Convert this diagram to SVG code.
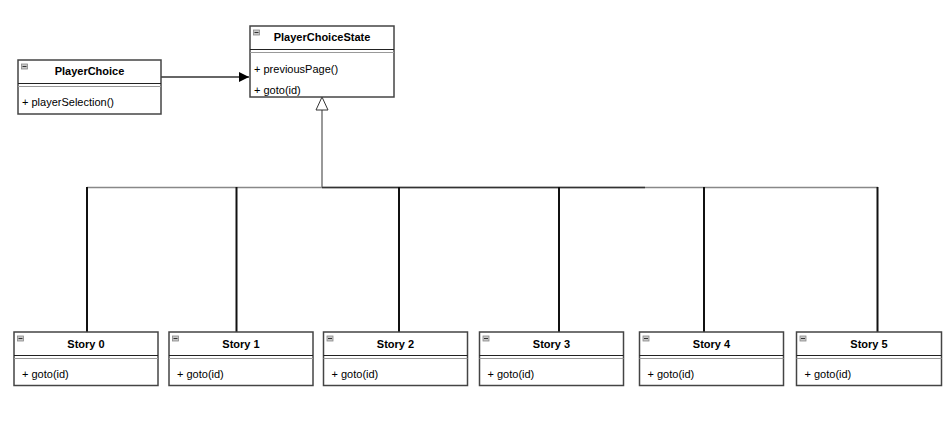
<svg xmlns="http://www.w3.org/2000/svg" width="946" height="439" viewBox="0 0 946 439">
<style>
.box{fill:#fff;stroke:#444;stroke-width:1.5}
.sep1{stroke:#222;stroke-width:1.2}
.sep2{stroke:#999;stroke-width:1.2}
.icon{fill:#c8c8c8;stroke:#888;stroke-width:0.8}
.iconl{stroke:#333;stroke-width:1}
.title{font-family:"Liberation Sans",Arial,sans-serif;font-size:11px;font-weight:bold;fill:#000;text-anchor:middle}
.meth{font-family:"Liberation Sans",Arial,sans-serif;font-size:11px;fill:#000}
.vline{stroke:#111;stroke-width:2;fill:none}
</style>
<defs>
<marker id="filled" markerWidth="12" markerHeight="12" refX="10" refY="5" orient="auto" markerUnits="userSpaceOnUse">
<path d="M0,0 L10,5 L0,10 Z" fill="#000"/>
</marker>
</defs>
<rect width="946" height="439" fill="#fff"/>
<g id="connectors">
<line x1="161" y1="77" x2="249" y2="77" stroke="#333" stroke-width="1.5" marker-end="url(#filled)"/>
<line x1="322" y1="110" x2="322" y2="187.5" stroke="#777" stroke-width="1.5"/>
<path d="M322,97 L328,110 L316,110 Z" fill="#fff" stroke="#333" stroke-width="1"/>
<line x1="87" y1="187.5" x2="878" y2="187.5" stroke="#888" stroke-width="1.5"/>
<line x1="322" y1="187.5" x2="645" y2="187.5" stroke="#333" stroke-width="1.5"/>
<line class="vline" x1="87" y1="187" x2="87" y2="332"/>
<line class="vline" x1="236.5" y1="187" x2="236.5" y2="332"/>
<line class="vline" x1="399" y1="187" x2="399" y2="332"/>
<line class="vline" x1="559" y1="187" x2="559" y2="332"/>
<line class="vline" x1="704" y1="187" x2="704" y2="332"/>
<line class="vline" x1="877.5" y1="187" x2="877.5" y2="332"/>
</g>
<g id="PlayerChoiceState">
<rect class="box" x="250" y="26" width="144" height="71"/>
<rect class="icon" x="253.5" y="30" width="6" height="5"/>
<line class="iconl" x1="254.5" y1="32.5" x2="258.5" y2="32.5"/>
<text class="title" x="322" y="41">PlayerChoiceState</text>
<line class="sep1" x1="250" y1="49.5" x2="394" y2="49.5"/>
<line class="sep2" x1="250" y1="52.5" x2="394" y2="52.5"/>
<text class="meth" x="254" y="73">+ previousPage()</text>
<text class="meth" x="254" y="94">+ goto(id)</text>
</g>
<g id="PlayerChoice">
<rect class="box" x="18" y="60" width="143" height="54"/>
<rect class="icon" x="21.5" y="64" width="6" height="5"/>
<line class="iconl" x1="22.5" y1="66.5" x2="26.5" y2="66.5"/>
<text class="title" x="89.5" y="75">PlayerChoice</text>
<line class="sep1" x1="18" y1="83.5" x2="161" y2="83.5"/>
<line class="sep2" x1="18" y1="86.5" x2="161" y2="86.5"/>
<text class="meth" x="22" y="105.5">+ playerSelection()</text>
</g>
<g id="Story0">
<rect class="box" x="14" y="332" width="144" height="53.5"/>
<rect class="icon" x="17.5" y="336" width="6" height="5"/>
<line class="iconl" x1="18.5" y1="338.5" x2="22.5" y2="338.5"/>
<text class="title" x="86" y="347.5">Story 0</text>
<line class="sep1" x1="14" y1="355.5" x2="158" y2="355.5"/>
<line class="sep2" x1="14" y1="358.5" x2="158" y2="358.5"/>
<text class="meth" x="22" y="378">+ goto(id)</text>
</g>
<g id="Story1">
<rect class="box" x="169" y="332" width="144" height="53.5"/>
<rect class="icon" x="172.5" y="336" width="6" height="5"/>
<line class="iconl" x1="173.5" y1="338.5" x2="177.5" y2="338.5"/>
<text class="title" x="241" y="347.5">Story 1</text>
<line class="sep1" x1="169" y1="355.5" x2="313" y2="355.5"/>
<line class="sep2" x1="169" y1="358.5" x2="313" y2="358.5"/>
<text class="meth" x="177" y="378">+ goto(id)</text>
</g>
<g id="Story2">
<rect class="box" x="323.5" y="332" width="144" height="53.5"/>
<rect class="icon" x="327" y="336" width="6" height="5"/>
<line class="iconl" x1="328" y1="338.5" x2="332" y2="338.5"/>
<text class="title" x="395.5" y="347.5">Story 2</text>
<line class="sep1" x1="323.5" y1="355.5" x2="467.5" y2="355.5"/>
<line class="sep2" x1="323.5" y1="358.5" x2="467.5" y2="358.5"/>
<text class="meth" x="331.5" y="378">+ goto(id)</text>
</g>
<g id="Story3">
<rect class="box" x="479.5" y="332" width="144" height="53.5"/>
<rect class="icon" x="483" y="336" width="6" height="5"/>
<line class="iconl" x1="484" y1="338.5" x2="488" y2="338.5"/>
<text class="title" x="551.5" y="347.5">Story 3</text>
<line class="sep1" x1="479.5" y1="355.5" x2="623.5" y2="355.5"/>
<line class="sep2" x1="479.5" y1="358.5" x2="623.5" y2="358.5"/>
<text class="meth" x="487.5" y="378">+ goto(id)</text>
</g>
<g id="Story4">
<rect class="box" x="639.5" y="332" width="144" height="53.5"/>
<rect class="icon" x="643" y="336" width="6" height="5"/>
<line class="iconl" x1="644" y1="338.5" x2="648" y2="338.5"/>
<text class="title" x="711.5" y="347.5">Story 4</text>
<line class="sep1" x1="639.5" y1="355.5" x2="783.5" y2="355.5"/>
<line class="sep2" x1="639.5" y1="358.5" x2="783.5" y2="358.5"/>
<text class="meth" x="647.5" y="378">+ goto(id)</text>
</g>
<g id="Story5">
<rect class="box" x="796.5" y="332" width="145" height="53.5"/>
<rect class="icon" x="800" y="336" width="6" height="5"/>
<line class="iconl" x1="801" y1="338.5" x2="805" y2="338.5"/>
<text class="title" x="869" y="347.5">Story 5</text>
<line class="sep1" x1="796.5" y1="355.5" x2="941.5" y2="355.5"/>
<line class="sep2" x1="796.5" y1="358.5" x2="941.5" y2="358.5"/>
<text class="meth" x="804.5" y="378">+ goto(id)</text>
</g>
</svg>
